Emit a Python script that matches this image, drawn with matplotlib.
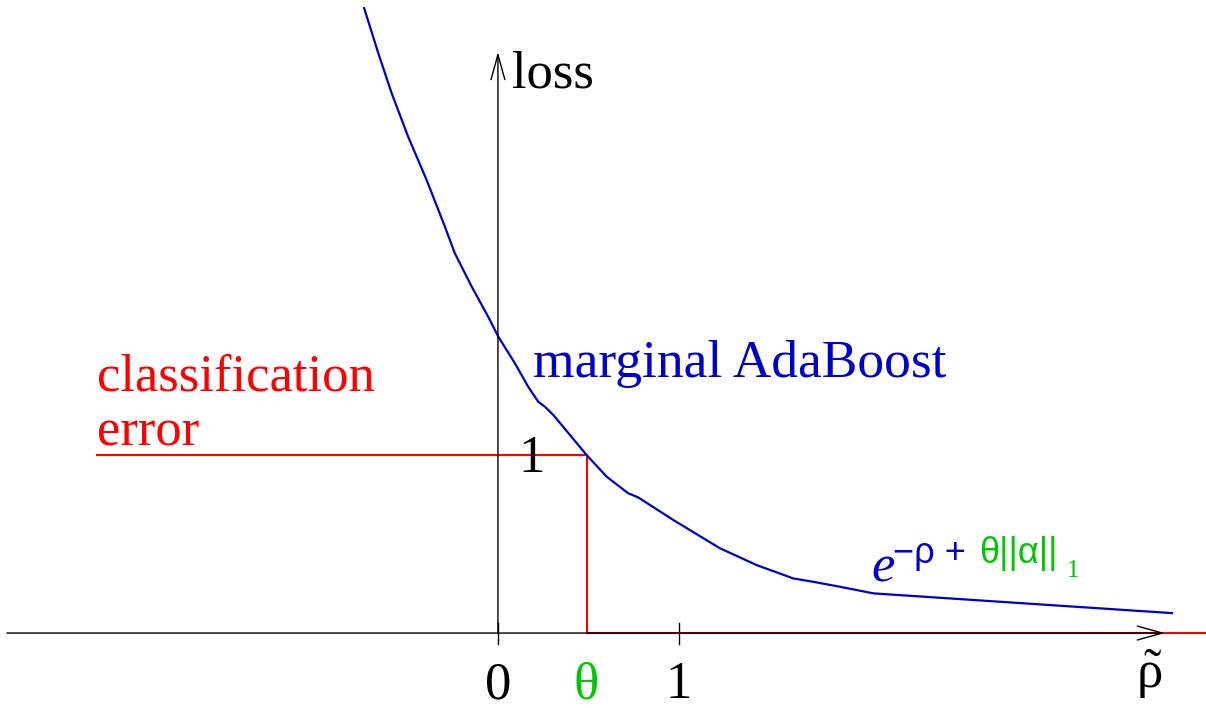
import matplotlib.pyplot as plt

# margin axis values and loss curves
theta = 0.49
curve_x = [-0.739, -0.661, -0.587, -0.496, -0.394, -0.293, -0.238, -0.145,
           -0.054, 0.002, 0.094, 0.167, 0.223, 0.260, 0.306, 0.490, 0.601,
           0.720, 0.775, 0.969, 1.227, 1.429, 1.631, 1.742, 1.890, 2.074,
           2.221, 3.724]
curve_y = [3.510, 3.257, 3.032, 2.788, 2.545, 2.283, 2.133, 1.946,
           1.777, 1.665, 1.515, 1.384, 1.299, 1.271, 1.225, 1.0, 0.878,
           0.785, 0.762, 0.635, 0.476, 0.382, 0.307, 0.288, 0.260, 0.223,
           0.213, 0.112]
step_x = [-2.215, theta, theta, 3.912]
step_y = [1.0, 1.0, 0.0, 0.0]
tick_pos = [0, theta, 1]
tick_labels = ["0", "θ", "1"]

BLUE = "#0000cc"
RED = "#ff0000"
GREEN = "#00c800"
serif = ["Liberation Serif", "DejaVu Serif"]
sans = ["Liberation Sans", "DejaVu Sans"]

plt.rcParams["mathtext.fontset"] = "custom"
plt.rcParams["mathtext.rm"] = "Liberation Serif"

fig = plt.figure(figsize=(12.06, 7.08), dpi=100)
ax = fig.add_axes([0, 0, 1, 1])
ax.set_xlim(-2.751, 3.912)
ax.set_ylim(-0.421, 3.556)
ax.axis("off")

# axes with open arrowheads
arrow = dict(arrowstyle="->,head_length=0.9,head_width=0.25", color="black",
             lw=1.0, shrinkA=0, shrinkB=0, mutation_scale=20)
ax.annotate("", xy=(3.685, 0), xytext=(-2.713, 0), arrowprops=arrow)
ax.annotate("", xy=(0, 3.264), xytext=(0, 0), arrowprops=arrow)
for t in [0, 1]:
    ax.plot([t, t], [0.056, -0.062], color="black", lw=1.0)

ax.plot(step_x, step_y, color=RED, lw=1.5)
ax.plot(curve_x, curve_y, color=BLUE, lw=1.6, solid_joinstyle="round")

for pos, lab in zip(tick_pos, tick_labels):
    ax.text(pos, -0.365, lab, ha="center", va="baseline", fontsize=38,
            family=serif, color=GREEN if lab == "θ" else "black")
ax.text(3.602, -0.309, r"$\tilde{\mathrm{\rho}}$", ha="center",
        va="baseline", fontsize=38)
ax.text(0.077, 3.067, "loss", ha="left", va="baseline", fontsize=38,
        family=serif)
ax.text(0.188, 0.904, "1", ha="center", va="baseline", fontsize=38,
        family=serif)

ax.text(0.193, 1.438, "marginal AdaBoost", ha="left", va="baseline",
        fontsize=38.5, family=serif, color=BLUE)
ax.text(-2.215, 1.365, "classification", ha="left", va="baseline",
        fontsize=38, family=serif, color=RED)
ax.text(-2.215, 1.056, "error", ha="left", va="baseline",
        fontsize=38, family=serif, color=RED)

# exponent label e^{-rho + theta||alpha||_1}
ax.text(2.066, 0.287, "e", ha="left", va="baseline", fontsize=38,
        family=serif, style="italic", color=BLUE)
ax.text(2.182, 0.393, "−ρ +", ha="left", va="baseline", fontsize=26,
        family=sans, color=BLUE)
ax.text(2.660, 0.393, "θ||α||", ha="left", va="baseline", fontsize=26,
        family=sans, color=GREEN)
ax.text(3.144, 0.315, "1", ha="left", va="baseline", fontsize=18,
        family=serif, color=GREEN)

fig.savefig("out.png", dpi=100)
